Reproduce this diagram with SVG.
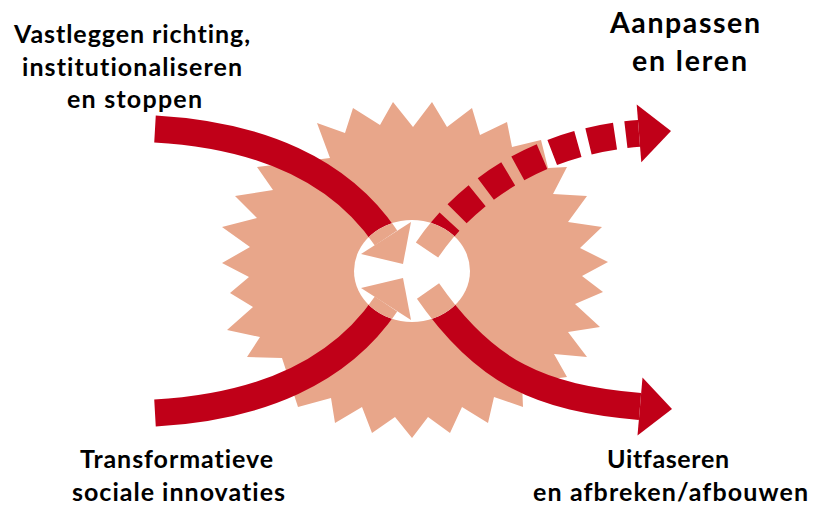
<svg xmlns="http://www.w3.org/2000/svg" width="813" height="506" viewBox="0 0 813 506">
<style>
.lbl{font-family:Lato,"Open Sans","Liberation Sans",sans-serif;font-weight:700;fill:#000;text-anchor:middle;font-variant-ligatures:none;font-feature-settings:"liga" 0,"clig" 0}
.band{fill:none;stroke:#C00018;stroke-width:27;stroke-linecap:butt}
.dash{stroke-dasharray:27 11;stroke-dashoffset:28.8}
.head{fill:#C00018}
.sband{fill:none;stroke:#E8A68A;stroke-width:27;stroke-linecap:butt}
.shead{fill:#E8A68A}
</style>
<defs>
<clipPath id="hole"><ellipse cx="412" cy="271" rx="58" ry="51"/></clipPath>
</defs>
<rect width="813" height="506" fill="#fff"/>
<g id="burst">
<polygon fill="#E8A68A" points="393,102 413,127 432,102 447,127 472,108 480,135 507,122 512,147 541,140 548,168 567,167 553,194 587,196 568,222 602,227 580,248 608,262 582,276 603,292 575,304 600,327 568,332 587,357 554,354 567,377 522,383 523,407 494,397 488,423 462,407 450,433 428,417 412,438 395,417 372,433 362,407 335,423 331,398 298,407 282,358 247,357 260,337 227,330 253,307 230,293 249,277 222,263 250,247 222,227 257,218 235,196 273,190 257,167 330,158 317,123 345,133 353,108 380,125"/>
</g>
<g id="connectors">
<path class="band" d="M155,129 C260,135 340,170 386,238"/>
<polygon class="head" points="361,254 411,222 403,264"/>
<path class="band" d="M155,413 C260,407 340,372 386,304"/>
<polygon class="head" points="361,288 411,320 403,278"/>
<path class="band dash" d="M427,250 C461,200 529,142 639,133.4"/>
<polygon class="head" points="636.7,104.5 641.3,162.3 671,131"/>
<path class="band" d="M428,291 C485,373 540,398 640,406.5"/>
<polygon class="head" points="642.5,377.6 637.5,435.4 672,409"/>
</g>
<g id="hub">
<ellipse cx="412" cy="271" rx="58" ry="51" fill="#fff"/>
<g clip-path="url(#hole)">
<path class="sband" d="M155,129 C260,135 340,170 386,238"/>
<polygon class="shead" points="361,254 411,222 403,264"/>
<path class="sband" d="M155,413 C260,407 340,372 386,304"/>
<polygon class="shead" points="361,288 411,320 403,278"/>
<path class="sband" d="M427,250 C461,200 529,142 639,133.4"/>
<path class="sband" d="M428,291 C485,373 540,398 640,406.5"/>
</g>
</g>
<g id="label-vastleggen">
<text class="lbl" font-size="25" x="132" y="43" textLength="236" lengthAdjust="spacing">Vastleggen richting,</text>
<text class="lbl" font-size="25" x="132" y="76" textLength="220" lengthAdjust="spacing">institutionaliseren</text>
<text class="lbl" font-size="25" x="134.5" y="108" textLength="135" lengthAdjust="spacing">en stoppen</text>
</g>
<g id="label-aanpassen">
<text class="lbl" font-size="28.5" x="685" y="33" textLength="150" lengthAdjust="spacing">Aanpassen</text>
<text class="lbl" font-size="28.5" x="689.5" y="71" textLength="115" lengthAdjust="spacing">en leren</text>
</g>
<g id="label-transformatieve">
<text class="lbl" font-size="25" x="176.5" y="468" textLength="193" lengthAdjust="spacing">Transformatieve</text>
<text class="lbl" font-size="25" x="178.5" y="501" textLength="213" lengthAdjust="spacing">sociale innovaties</text>
</g>
<g id="label-uitfaseren">
<text class="lbl" font-size="25" x="668" y="468" textLength="122" lengthAdjust="spacing">Uitfaseren</text>
<text class="lbl" font-size="25" x="670.5" y="501" textLength="275" lengthAdjust="spacing">en afbreken/afbouwen</text>
</g>
</svg>
